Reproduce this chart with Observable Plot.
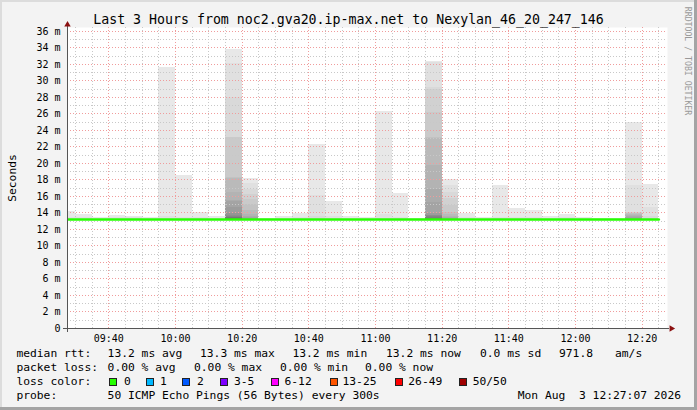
<!DOCTYPE html>
<html><head><meta charset="utf-8">
<script src="https://cdn.jsdelivr.net/npm/d3@7"></script>
<script src="https://cdn.jsdelivr.net/npm/@observablehq/plot@0.6"></script>
<style>
html,body{margin:0;padding:0;background:#f3f3f3;}
#chart{position:relative;width:697px;height:410px;background:#f3f3f3;overflow:hidden;font-family:"DejaVu Sans Mono",monospace;color:#000;}
#chart svg{position:absolute;left:0;top:0;}
.t{position:absolute;white-space:pre;line-height:1;}
.box{position:absolute;box-sizing:border-box;border:1px solid #222;}
.edge{position:absolute;}
</style></head>
<body><div id="chart"></div>
<script>
// ---------- data ----------
const titleText = "Last 3 Hours from noc2.gva20.ip-max.net to Nexylan_46_20_247_146";
const tickLabels = ["09:40","10:00","10:20","10:40","11:00","11:20","11:40","12:00","12:20"];
const yTickValues = [0,2,4,6,8,10,12,14,16,18,20,22,24,26,28,30,32,34,36];
const barEnd = ["09:30","09:35","09:40","09:45","09:50","09:55","10:00","10:05","10:10","10:15",
  "10:20","10:25","10:30","10:35","10:40","10:45","10:50","10:55","11:00","11:05",
  "11:10","11:15","11:20","11:25","11:30","11:35","11:40","11:45","11:50","11:55",
  "12:00","12:05","12:10","12:15","12:20","12:25"];
const medianRtt = [13.2,13.2,13.2,13.2,13.2,13.2,13.2,13.2,13.2,13.2,13.2,13.2,13.2,13.2,13.2,13.2,13.2,13.2,
  13.2,13.2,13.2,13.2,13.2,13.2,13.2,13.2,13.2,13.2,13.2,13.2,13.2,13.2,13.2,13.2,13.2,13.2];
const minRtt = [13.15,13.15,13.15,13.15,13.15,13.15,13.15,13.15,13.15,13.15,13.15,13.15,13.15,13.15,13.15,13.15,13.15,13.15,
  13.15,13.15,13.15,13.15,13.15,13.15,13.15,13.15,13.15,13.15,13.15,13.15,13.15,13.15,13.15,13.15,13.15,13.15];
// upper pings of each 5-minute round, highest first (pair tops of the smoke)
const smokeTops = [
  [14.2, 13.5],
  [13.85, 13.45],
  [13.4],
  [13.7, 13.4],
  [13.6, 13.45],
  [13.4],
  [31.6, 13.6],
  [18.5, 13.5],
  [14.1, 13.5],
  [13.6],
  [33.8, 32.1, 28.0, 23.2, 23.1, 18.3, 18.2, 16.5, 15.5, 15.4, 14.7, 13.9, 13.7, 13.6, 13.5, 13.45],
  [18.2, 17.6, 16.9, 16.3, 15.6, 15.0, 14.3, 13.8, 13.6, 13.5],
  [13.3],
  [13.6],
  [13.9, 13.5],
  [22.3, 16.1, 13.6],
  [15.4, 13.6],
  [13.6],
  [13.5],
  [26.3, 13.8],
  [16.4, 13.5],
  [13.3],
  [32.4, 32.3, 29.2, 29.0, 26.2, 23.2, 23.0, 19.8, 16.9, 15.3, 13.9, 13.75, 13.65, 13.55, 13.5],
  [18.0, 17.3, 16.5, 15.7, 14.9, 14.1, 13.8, 13.6, 13.5],
  [13.9, 13.4],
  [13.4],
  [17.3, 13.5],
  [14.5, 13.5],
  [14.3, 13.5],
  [13.6],
  [13.85, 13.45],
  [13.45],
  [13.3],
  [13.3],
  [25.0, 17.3, 14.0, 14.0, 13.95, 13.9, 13.8, 13.7, 13.6, 13.5],
  [17.5, 14.7, 13.6]
];
const rttStats = ["13.2 ms avg","13.3 ms max","13.2 ms min","13.2 ms now","0.0 ms sd","971.8","am/s"];
const lossStats = ["0.00 % avg","0.00 % max","0.00 % min","0.00 % now"];
const lossLabels = ["0","1","2","3-5","6-12","13-25","26-49","50/50"];
const lossColors = ["#26ff00","#00b8ff","#0059ff","#7e00ff","#ff00ff","#ff5500","#ff0000","#a00000"];
const probeText = "50 ICMP Echo Pings (56 Bytes) every 300s";
const stampText = "Mon Aug  3 12:27:07 2026";
const watermark = "RRDTOOL / TOBI OETIKER";

// ---------- build ----------
const toMin = s => +s.slice(0,2)*60 + +s.slice(3,5);
const X0 = toMin("09:27") + 0.6, X1 = X0 + 180;
const Y1 = 36.4848;
const pxX = 600/180, pxY = 301/Y1;
const gray = k => { const c = 50 + Math.floor(190/25*(25-k)); const h = c.toString(16).padStart(2,"0"); return "#"+h+h+h; };

const smoke = [];
barEnd.forEach((e,i) => {
  const t = toMin(e);
  smokeTops[i].forEach((top,k) => smoke.push({x1: t-5, x2: t, y1: minRtt[i], y2: top, fill: gray(k+1)}));
});
const medianPts = barEnd.map((e,i) => ({x: toMin(e)-5, y: medianRtt[i]}));
medianPts.push({x: toMin(barEnd[barEnd.length-1]), y: medianRtt[medianRtt.length-1]});
const majorX = tickLabels.map(toMin);
const minorX = barEnd.map(toMin).filter(t => !majorX.includes(t) && t > X0);
const majorY = yTickValues.filter(v => v > 0);
const minorY = majorY.map(v => v - 1);
const labelOf = new Map(tickLabels.map(s => [toMin(s), s]));

const gridMinor = {stroke: "#c8c8c8", strokeDasharray: "1,2", shapeRendering: "crispEdges"};
const gridMajor = {stroke: "#f09c9c", strokeDasharray: "1,2", shapeRendering: "crispEdges"};

const plot = Plot.plot({
  width: 697, height: 345,
  marginLeft: 67, marginRight: 30, marginTop: 27, marginBottom: 17,
  style: {fontFamily: '"DejaVu Sans Mono", monospace', fontSize: "10px", background: "transparent", color: "#000", overflow: "visible"},
  x: {domain: [X0, X1]},
  y: {domain: [0, Y1]},
  marks: [
    Plot.frame({fill: "#ffffff", stroke: "none"}),
    Plot.rect(smoke, {x1: "x1", x2: "x2", y1: "y1", y2: "y2", fill: "fill", clip: true, shapeRendering: "crispEdges"}),
    Plot.ruleY(minorY, gridMinor),
    Plot.ruleX(minorX, gridMinor),
    Plot.ruleY(majorY, gridMajor),
    Plot.ruleX(majorX, gridMajor),
    Plot.line(medianPts, {x: "x", y: "y", curve: "step-after", stroke: "#26ff00", strokeWidth: 2.5, clip: true}),
    Plot.ruleY([0], {x1: X0 - 4/pxX, x2: X1 + 2/pxX, stroke: "#555", shapeRendering: "crispEdges"}),
    Plot.ruleX([X0], {y1: -4/pxY, y2: Y1 + 1/pxY, stroke: "#555", shapeRendering: "crispEdges"}),
    Plot.dot([{x: X0, y: Y1 + 2.87/pxY}], {x: "x", y: "y", symbol: "triangle", r: 2.4, fill: "#8b1010", stroke: "none"}),
    Plot.dot([{x: X1 + 3.9/pxX, y: 0}], {x: "x", y: "y", symbol: "triangle", r: 2.4, rotate: 90, fill: "#8b1010", stroke: "none"}),
    Plot.axisX({ticks: majorX, tickFormat: v => labelOf.get(v), tickSize: 0, tickPadding: 6, label: null, fontSize: 10}),
    Plot.axisY({ticks: yTickValues, tickFormat: v => v === 0 ? "0" : v + " m", tickSize: 0, tickPadding: 7, label: null, fontSize: 10}),
    Plot.text(["Seconds"], {frameAnchor: "left", rotate: -90, dx: -52, fontSize: 11.3, textAnchor: "middle", lineAnchor: "bottom", fill: "#000"}),
    Plot.text([watermark], {frameAnchor: "top-right", rotate: 90, dx: 20, dy: 33.5, fontSize: 8.2, textAnchor: "middle", lineAnchor: "middle", fill: "#999"})
  ]
});

const chart = document.getElementById("chart");
chart.appendChild(plot);

function txt(s, x, base, fs, right) {
  const el = document.createElement("div");
  el.className = "t";
  el.textContent = s;
  el.style.fontSize = fs + "px";
  el.style.height = fs + "px";
  el.style.top = (base - 0.846*fs) + "px";
  if (right) el.style.right = x + "px"; else el.style.left = x + "px";
  chart.appendChild(el);
  return el;
}
// title
const tt = txt(titleText, 0, 24, 13.25);
tt.style.width = "697px"; tt.style.textAlign = "center";

// legend
const FS = 11.3;
const rows = [358, 372, 386, 400];
txt("median rtt:", 16.4, rows[0], FS);
[107.6, 200, 292.4, 386, 480, 559, 615].forEach((x,i) => txt(rttStats[i], x, rows[0], FS));
txt("packet loss:", 16.4, rows[1], FS);
[107.6, 194, 280, 365].forEach((x,i) => txt(lossStats[i], x, rows[1], FS));
txt("loss color:", 16.4, rows[2], FS);
const boxX = [108.5, 145.5, 182, 219.5, 270.5, 330, 395, 458.5];
const labX = [124, 160, 197, 234, 284.5, 342.5, 408.3, 472.7];
lossLabels.forEach((l,i) => {
  const b = document.createElement("div");
  b.className = "box";
  b.style.left = boxX[i] + "px"; b.style.top = "377.5px";
  b.style.width = "8px"; b.style.height = "8px";
  b.style.background = lossColors[i];
  chart.appendChild(b);
  txt(l, labX[i], rows[2], FS);
});
txt("probe:", 16.4, rows[3], FS);
txt(probeText, 107.6, rows[3], FS);
txt(stampText, 697 - 681, rows[3], FS, true);

// 3D frame edges
[["left:0;top:0;width:697px;height:2px;background:#dcdcdc"],
 ["left:0;top:0;width:2px;height:410px;background:#dcdcdc"],
 ["right:0;top:0;width:3px;height:410px;background:#a4a4a4"],
 ["left:0;bottom:0;width:697px;height:3px;background:#a4a4a4"]].forEach(([css]) => {
  const d = document.createElement("div"); d.className = "edge"; d.style.cssText += css; chart.appendChild(d);
});
</script>
</body></html>
